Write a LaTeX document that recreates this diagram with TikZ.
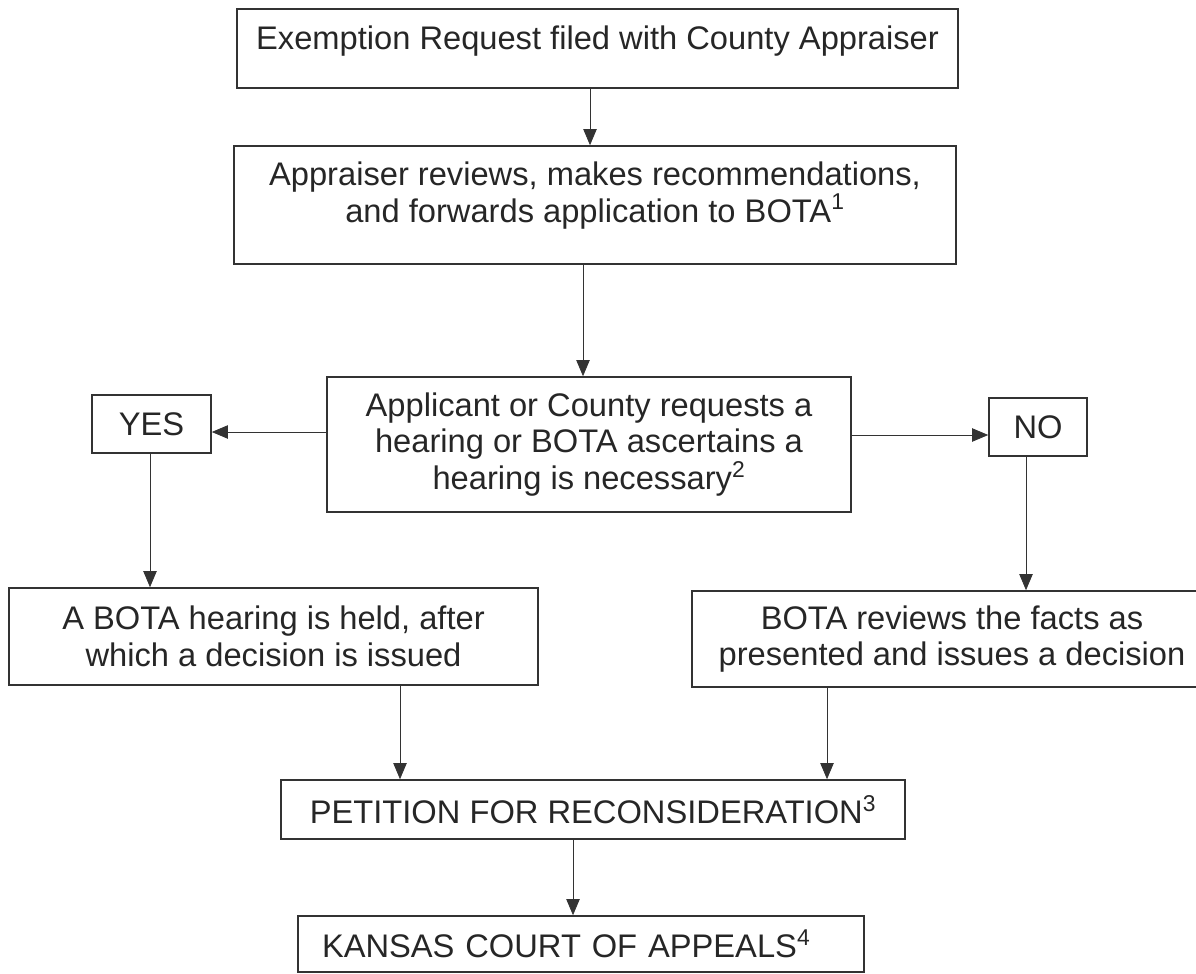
\documentclass[tikz,border=0pt]{standalone}
\usepackage{fontspec}
\setmainfont{Liberation Sans}
\usetikzlibrary{arrows.meta}

\tikzset{
  stage/.style={draw=black!80, line width=1.2pt, text=black!85, font=\fontsize{24.5}{27.5}\selectfont, align=center, inner sep=0pt},
  flow/.style={draw=black!80, line width=0.6pt, -{Triangle[length=12pt,width=10pt]}}
}

\begin{document}
\begin{tikzpicture}[x=0.75pt, y=-0.75pt]
      \useasboundingbox (0,0) rectangle (1196,974);
      \node[stage, anchor=base, minimum width=540.75pt, text height=30.75pt, text depth=28.5pt] (request) at (597.5,50) {Exemption Request filed with County Appraiser};
      \node[stage, anchor=base, minimum width=541.5pt, text height=57pt, text depth=31.5pt] (review) at (595,222) {Appraiser reviews, makes recommendations,\\and forwards application to BOTA\textsuperscript{1}};
      \node[stage, minimum width=393pt, minimum height=101.25pt] (hearingq) at (589,444.5) {Applicant or County requests a\\hearing or BOTA ascertains a\\hearing is necessary\textsuperscript{2}};
      \node[stage, minimum width=89.25pt, minimum height=43.5pt] (yes) at (151.5,424) {YES};
      \node[stage, minimum width=73.5pt, minimum height=43.5pt] (no) at (1038,427) {NO};
      \node[stage, minimum width=396.75pt, minimum height=72.75pt] (held) at (273.5,636.5) {A BOTA hearing is held, after\\which a decision is issued};
      \node[stage, minimum width=390pt, minimum height=72pt] (facts) at (952,639) {BOTA reviews the facts as\\presented and issues a decision};
      \node[stage, minimum width=468pt, minimum height=44.25pt] (petition) at (593,809.5) {PETITION FOR RECONSIDERATION\textsuperscript{3}};
      \node[stage, minimum height=42pt, text width=388.5pt, inner xsep=18pt, align=left] (appeals) at (581,944) {KANSAS COURT OF APPEALS\textsuperscript{4}};
      \foreach \x/\a/\b in {590/request/review, 583/review/hearingq, 150/yes/held, 1026/no/facts, 400/held/petition, 827/facts/petition, 573/petition/appeals}
      \draw[flow] (\x,0 |- \a.south) -- (\x,0 |- \b.north);
      \draw[flow] (0,432 -| hearingq.west) -- (0,432 -| yes.east);
      \draw[flow] (0,435 -| hearingq.east) -- (0,435 -| no.west);
    \end{tikzpicture}
\end{document}
